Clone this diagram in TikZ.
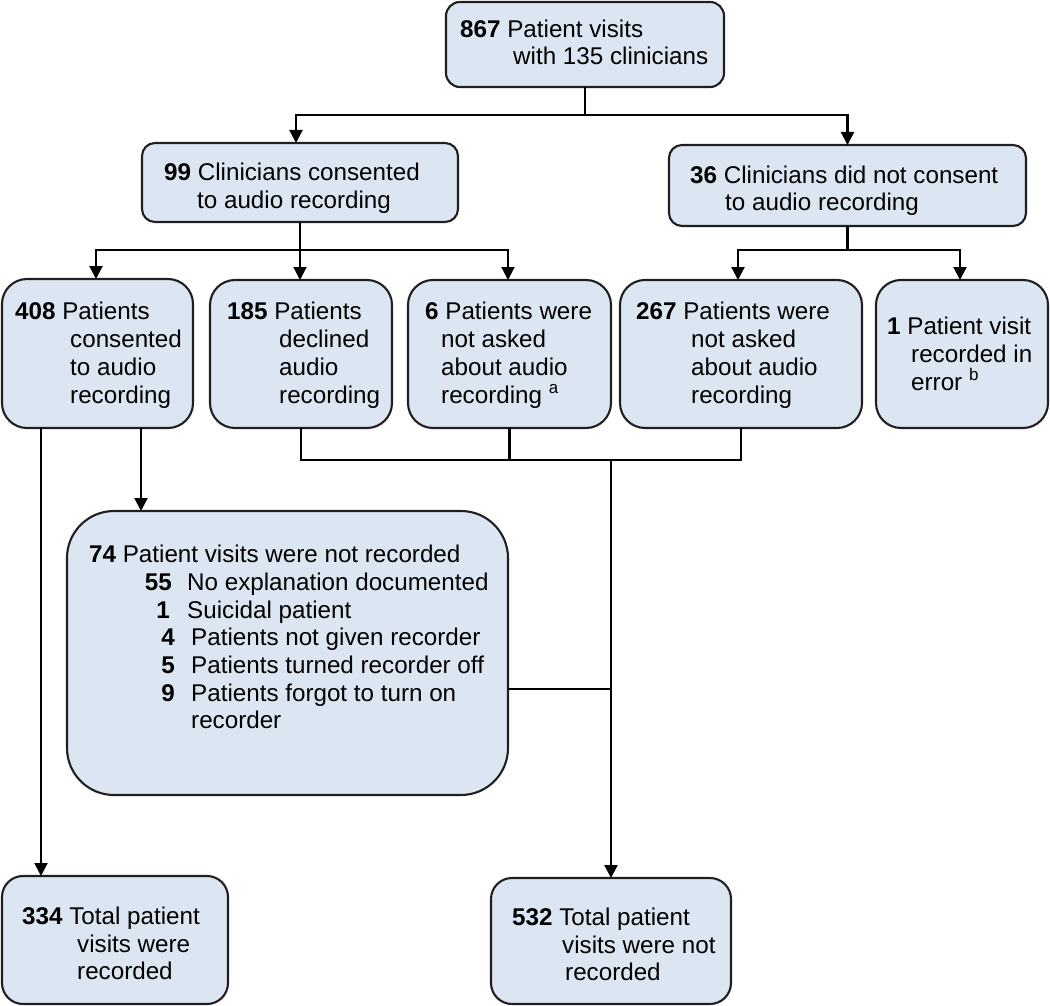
\documentclass[tikz,border=0pt]{standalone}
\usepackage{fontspec}
\setmainfont{Liberation Sans}
\usetikzlibrary{arrows.meta}
\definecolor{boxfill}{HTML}{DCE6F2}
\definecolor{boxline}{HTML}{1F1F1F}
\newcommand\fs{\fontsize{24.2}{28}\selectfont}
\newcommand\mkbox[6]{\node[box, rounded corners=#6, minimum width={#4-#2}, minimum height={#5-#3}] (#1) at ({(#2+#4)/2},{(#3+#5)/2}) {};}
\newcommand\tline[4]{\node[txt] (#1) at (#2,#3) {#4};}
\newcommand\nline[4]{\node[num] (#1) at (#2,#3) {#4};}
\begin{document}
\begin{tikzpicture}[x=1pt,y=-1pt,
  box/.style={draw=boxline, fill=boxfill, line width=2.1pt, inner sep=0pt, outer sep=0pt},
  txt/.style={anchor=base west, inner sep=0pt, font=\fs},
  num/.style={anchor=base east, inner sep=0pt, font=\fs\bfseries},
  link/.style={line width=2.2pt, draw=black},
  arr/.style={link, -{Triangle[length=13pt,width=13pt]}}]
\useasboundingbox (0,0) rectangle (1050,1006);
% boxes
\mkbox{top}{446}{2}{724}{87}{14pt}
\mkbox{c99}{142}{143}{458}{222}{13pt}
\mkbox{c36}{669}{145}{1026}{226}{13pt}
\mkbox{p408}{2}{279}{193}{428}{25pt}
\mkbox{p185}{210}{280}{392}{428}{25pt}
\mkbox{p6}{408}{280}{611}{428}{25pt}
\mkbox{p267}{620}{280}{862}{428}{25pt}
\mkbox{p1}{876}{280}{1048}{428}{25pt}
\mkbox{p74}{67}{511}{508}{795}{47pt}
\mkbox{p334}{2}{876}{228}{1004}{21pt}
\mkbox{p532}{491}{878}{731}{1004}{21pt}
% connectors
\draw[link] (top.south) -- ++(0,28) coordinate (ja);
\draw[arr] (ja) -| ([xshift=-4pt]c99.north);
\draw[arr] (ja) -| (c36.north);
\draw[link] (c99.south) -- ++(0,28) coordinate (jb);
\draw[arr] (jb) -| ([xshift=-1.5pt]p408.north);
\draw[arr] (jb) -- (jb |- p185.north);
\draw[arr] (jb) -| ([xshift=-1.5pt]p6.north);
\draw[link] (c36.south) -- ++(0,24) coordinate (jc);
\draw[arr] (jc) -| ([xshift=-3pt]p267.north);
\draw[arr] (jc) -| ([xshift=-2pt]p1.north);
\draw[arr] ([xshift=39pt]p408.south west) -- ([xshift=39pt]p334.north west);
\draw[arr] ([xshift=139pt]p408.south west) -- ([xshift=74pt]p74.north west);
\draw[link] (p185.south) -- ++(0,32) coordinate (jd) -| (p267.south);
\draw[link] (p6.south) -- (p6.south |- jd);
\draw[arr] (jd -| p532.north) -- (p532.north);
\draw[link] ([yshift=-36pt]p74.east) -- ([yshift=-36pt]p74.east -| p532.north);
% texts
\tline{ta1}{460}{38}{\textbf{867} Patient visits}
\tline{ta2}{513}{65}{with 135 clinicians}
\tline{tb1}{164}{181}{\textbf{99} Clinicians consented}
\tline{tb2}{197}{208}{to audio recording}
\tline{tc1}{690}{184}{\textbf{36} Clinicians did not consent}
\tline{tc2}{725}{211}{to audio recording}
\tline{td1}{15}{319}{\textbf{408} Patients}
\tline{td2}{70}{347}{consented}
\tline{td3}{70}{375}{to audio}
\tline{td4}{70}{403}{recording}
\tline{te1}{227}{319}{\textbf{185} Patients}
\tline{te2}{279}{347}{declined}
\tline{te3}{279}{375}{audio}
\tline{te4}{279}{403}{recording}
\tline{tf1}{425}{319}{\textbf{6} Patients were}
\tline{tf2}{441}{347}{not asked}
\tline{tf3}{441}{375}{about audio}
\tline{tf4}{441}{403}{recording \textsuperscript{a}}
\tline{tg1}{636}{319}{\textbf{267} Patients were}
\tline{tg2}{691}{347}{not asked}
\tline{tg3}{691}{375}{about audio}
\tline{tg4}{691}{403}{recording}
\tline{th1}{887}{334}{\textbf{1} Patient visit}
\tline{th2}{911}{362}{recorded in}
\tline{th3}{911}{390}{error \textsuperscript{b}}
\tline{ti1}{89}{562}{\textbf{74} Patient visits were not recorded}
\nline{ni2}{172}{590}{55}
\tline{ti2}{187}{590}{No explanation documented}
\nline{ni3}{170}{618}{1}
\tline{ti3}{187}{618}{Suicidal patient}
\nline{ni4}{175}{645}{4}
\tline{ti4}{191}{645}{Patients not given recorder}
\nline{ni5}{175}{673}{5}
\tline{ti5}{191}{673}{Patients turned recorder off}
\nline{ni6}{175}{701}{9}
\tline{ti6}{191}{701}{Patients forgot to turn on}
\tline{ti7}{191}{728}{recorder}
\tline{tj1}{22}{924}{\textbf{334} Total patient}
\tline{tj2}{77}{952}{visits were}
\tline{tj3}{77}{979}{recorded}
\tline{tk1}{512}{925}{\textbf{532} Total patient}
\tline{tk2}{562}{953}{visits were not}
\tline{tk3}{565}{980}{recorded}
\end{tikzpicture}
\end{document}
